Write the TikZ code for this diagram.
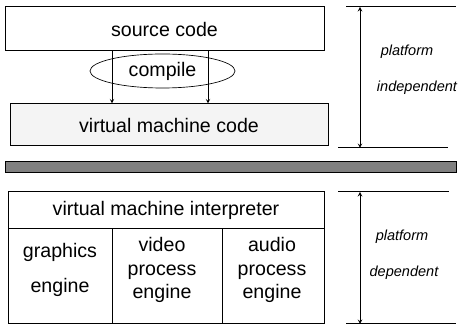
\documentclass[tikz,border=0pt]{standalone}
\usepackage{xcolor}
\usepackage{fontspec}
\setmainfont{Liberation Sans}
\usepackage{tikz}
\usetikzlibrary{shapes,arrows,positioning,calc}
\definecolor{vmfill}{gray}{0.955}
\definecolor{barfill}{gray}{0.5}
\def\u{0.75pt}

\tikzset{
	box/.style = {draw, line width=\u, inner sep=0pt, minimum height=#1*\u},
	label/.style = {font=\fontsize{10.9}{13}\itshape\selectfont},
	dim/.style = {<->, >=stealth, line width=0.5pt}
}

\begin{document}
\begin{tikzpicture}[
				x = \u, y = \u,
				every node/.style = {font=\fontsize{14.7}{17.6}\selectfont}
				]
				\useasboundingbox (0,0) rectangle (458,325);
				
				% compiling part
				\node [box=44, minimum width=319*\u] (src) at (164.5,296) {source code};
				\node [box=42, minimum width=318*\u, fill=vmfill] (vm) at (169,200) {virtual machine code};
				\node [draw, ellipse, line width=0.5pt, inner sep=0pt, minimum width=145*\u, minimum height=34*\u] (comp) at (162.5,254) {compile};
				\coordinate (a1) at (112,0);
				\coordinate (a2) at (208,0);
				\draw [->, >=stealth, line width=0.5pt] (src.south -| a1) -- (vm.north -| a1);
				\draw [->, >=stealth, line width=0.5pt] (src.south -| a2) -- (vm.north -| a2);
				
				% separator bar
				\node [box=11, minimum width=451*\u, fill=barfill] (bar) at (230.5,157.5) {};
				
				% interpreter with its engines
				\node [box=37, minimum width=316*\u] (interp) at (166,114.5) {virtual machine interpreter};
				\node [box=95, minimum width=104*\u] (gfx) at (60,48.5) {};
				\node [box=95, minimum width=110*\u] (vid) at (167,48.5) {};
				\node [box=95, minimum width=102*\u] (aud) at (273,48.5) {};
				\node [align=center] (gfxt) at ($(gfx)+(0,6.5)$) {graphics\\[9pt]engine};
				\node [align=center] (vidt) at ($(vid)+(-5,6.5)$) {video\\process\\engine};
				\node [align=center] (audt) at ($(aud)+(-1,6.5)$) {audio\\process\\engine};
				
				% platform markers on the right
				\coordinate (t1l) at (346,318); \coordinate (t1r) at (456,318);
				\coordinate (b1l) at (338,177); \coordinate (b1r) at (448,177);
				\coordinate (t2l) at (338,133); \coordinate (t2r) at (449,133);
				\coordinate (b2l) at (346,1);   \coordinate (b2r) at (456,1);
				\coordinate (ax) at (360,0);
				\draw [line width=\u] (t1l) -- (t1r);
				\draw [line width=\u] (b1l) -- (b1r);
				\draw [line width=\u] (t2l) -- (t2r);
				\draw [line width=\u] (b2l) -- (b2r);
				\draw [dim] (t1l -| ax) -- (b1l -| ax);
				\draw [dim] (t2l -| ax) -- (b2l -| ax);
				\node [label] (ind1) at (407,273) {platform};
				\node [label] (ind2) at (417,237) {independent};
				\node [label] (dep1) at (402,88) {platform};
				\node [label] (dep2) at (404,52) {dependent};
			\end{tikzpicture}
\end{document}
